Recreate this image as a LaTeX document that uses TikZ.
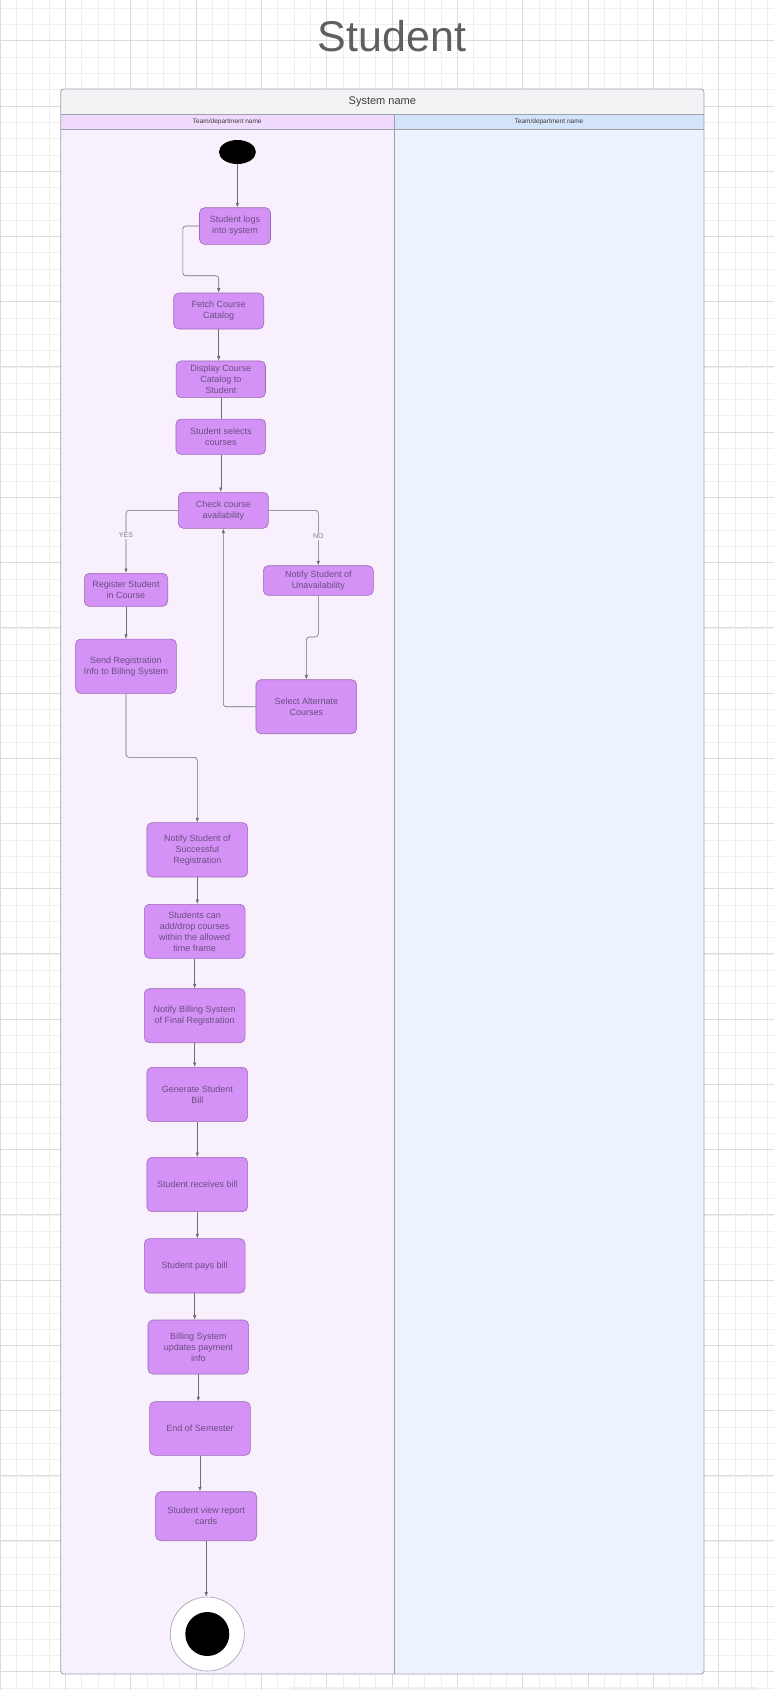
\documentclass[tikz,border=0pt]{standalone}
\usepackage{fontspec}
\setmainfont{Liberation Sans}
\usetikzlibrary{arrows.meta,shapes.geometric}

\definecolor{actfill}{HTML}{D492F7}
\definecolor{actline}{HTML}{9A6BB3}
\definecolor{acttext}{HTML}{6A4E80}
\definecolor{flowline}{HTML}{707070}
\definecolor{laneA}{HTML}{F8F0FD}
\definecolor{laneAhead}{HTML}{F0DAFB}
\definecolor{laneB}{HTML}{EDF4FE}
\definecolor{laneBhead}{HTML}{D3E3FA}
\definecolor{syshead}{HTML}{F2F3F5}
\definecolor{frameline}{HTML}{A0A0A8}
\definecolor{gridminor}{HTML}{EFEFEF}
\definecolor{gridmajor}{HTML}{DCDCDC}
\definecolor{titletext}{HTML}{5F5F5F}
\definecolor{headtext}{HTML}{3C3C3C}

\tikzset{
  act/.style={draw=actline, fill=actfill, rounded corners=5pt, align=center, inner sep=0pt,
    line width=0.6pt, text=acttext, font=\fontsize{9}{11}\selectfont},
  flow/.style={draw=flowline, line width=0.6pt, rounded corners=3pt, -{Latex[length=4.5pt,width=3.5pt]}},
  guard/.style={fill=laneA, inner sep=1pt, text=gray, font=\fontsize{7}{8}\selectfont},
  lanetitle/.style={text=headtext, inner sep=0pt, font=\fontsize{6.5}{7}\selectfont},
}

\begin{document}
\begin{tikzpicture}[x=1pt,y=-1pt]
\useasboundingbox (0,0) rectangle (774,1690);
\fill[white] (0,0) rectangle (774,1690);

% grid
\foreach \i in {0,...,47} \draw[gridminor, line width=0.6pt] (\i*16.33,0) -- (\i*16.33,1690);
\foreach \j in {0,...,103} \draw[gridminor, line width=0.6pt] (0,8.04+\j*16.31) -- (774,8.04+\j*16.31);
\foreach \i in {0,...,11} \draw[gridmajor, line width=0.7pt] (\i*65.33,0) -- (\i*65.33,1690);
\foreach \j in {0,...,25} \draw[gridmajor, line width=0.7pt] (0,40.7+\j*65.22) -- (774,40.7+\j*65.22);
\draw[gridminor, line width=3pt, line cap=round] (291,1688.5) -- (757,1688.5);

\node[text=titletext, font=\fontsize{43}{50}\selectfont] (title) at (392,36) {Student};

% swimlanes
\begin{scope}
\clip[rounded corners=3pt] (60.7,89) rectangle (704,1674);
\fill[syshead] (60.7,89) rectangle (704,114.3);
\fill[laneAhead] (60.7,114.3) rectangle (394,129.3);
\fill[laneBhead] (394,114.3) rectangle (704,129.3);
\fill[laneA] (60.7,129.3) rectangle (394,1674);
\fill[laneB] (394,129.3) rectangle (704,1674);
\end{scope}
\draw[frameline, line width=0.7pt] (60.7,114.3) -- (704,114.3);
\draw[frameline, line width=0.7pt] (60.7,129.3) -- (704,129.3);
\draw[frameline, line width=1pt] (394,114.3) -- (394,1674);
\draw[frameline, line width=0.8pt, rounded corners=3pt] (60.7,89) rectangle (704,1674);

\node[text=headtext, font=\fontsize{11}{13}\selectfont] (sysname) at (382.3,101.6) {System name};
\node[lanetitle] (laneAtitle) at (227.3,121.8) {Team/department name};
\node[lanetitle] (laneBtitle) at (549,121.8) {Team/department name};

% activities
\node[ellipse, fill=black, minimum width=37pt, minimum height=24pt, inner sep=0pt] (start) at (237.4,152) {};
\node[act, minimum width=71pt, minimum height=36.6pt] (login) at (235,226) {Student logs\\into system};
\node[act, minimum width=90pt, minimum height=36pt] (fetch) at (218.7,311) {Fetch Course\\Catalog};
\node[act, minimum width=89.3pt, minimum height=36.7pt] (display) at (220.8,379.3) {Display Course\\Catalog to\\Student};
\node[act, minimum width=89.7pt, minimum height=35.3pt] (selects) at (220.8,436.7) {Student selects\\courses};
\node[act, minimum width=90pt, minimum height=36pt] (check) at (223.3,510.3) {Check course\\availability};
\node[act, minimum width=83.4pt, minimum height=33pt] (register) at (126,589.8) {Register Student\\in Course};
\node[act, minimum width=100.6pt, minimum height=54.3pt] (send) at (126,666.2) {Send Registration\\Info to Billing System};
\node[act, minimum width=110pt, minimum height=29.6pt] (unavail) at (318.3,580.5) {Notify Student of\\Unavailability};
\node[act, minimum width=100.7pt, minimum height=54pt] (alternate) at (306.3,706.7) {Select Alternate\\Courses};
\node[act, minimum width=100.7pt, minimum height=54.3pt] (success) at (197.3,849.8) {Notify Student of\\Successful\\Registration};
\node[act, minimum width=100.7pt, minimum height=54pt] (adddrop) at (194.7,931.3) {Students can\\add/drop courses\\within the allowed\\time frame};
\node[act, minimum width=100.7pt, minimum height=54pt] (notifybill) at (194.7,1015.7) {Notify Billing System\\of Final Registration};
\node[act, minimum width=100.7pt, minimum height=54.3pt] (generate) at (197.3,1094.5) {Generate Student\\Bill};
\node[act, minimum width=100.7pt, minimum height=54.3pt] (receives) at (197.3,1184.5) {Student receives bill};
\node[act, minimum width=100.7pt, minimum height=54.3pt] (pays) at (194.7,1265.8) {Student pays bill};
\node[act, minimum width=100.7pt, minimum height=54pt] (updates) at (198.3,1347) {Billing System\\updates payment\\info};
\node[act, minimum width=100.7pt, minimum height=53.6pt] (endsem) at (200,1428.5) {End of Semester};
\node[act, minimum width=101pt, minimum height=49pt] (report) at (206.2,1516.2) {Student view report\\cards};
\node[circle, draw=frameline, fill=white, line width=0.6pt, minimum size=74pt, inner sep=0pt] (final) at (207.3,1634) {};
\node[circle, fill=black, minimum size=44pt, inner sep=0pt] (finaldot) at (final.center) {};

% connectors
\draw[flow] (start.south) -- (start.south |- login.north);
\draw[flow] (login.west) -- ++(-16.4,0) |- ([yshift=17pt]fetch.north) -- (fetch.north);
\draw[flow] (fetch.south) -- (fetch.south |- display.north);
\draw[draw=flowline, line width=0.6pt] (display.south) -- (display.south |- selects.north);
\draw[flow] (selects.south) -- (selects.south |- check.north);
\draw[flow] (check.west) -| (register.north);
\draw[flow] (check.east) -| (unavail.north);
\draw[flow] (unavail.south) |- ([yshift=42.4pt]alternate.north) -- (alternate.north);
\draw[flow] (alternate.west) -| (check.south);
\draw[flow] (register.south) -- (register.south |- send.north);
\draw[flow] (send.south) |- ([yshift=65pt]success.north) -- (success.north);
\foreach \a/\b in {success/adddrop, adddrop/notifybill, notifybill/generate, generate/receives,
    receives/pays, pays/updates, updates/endsem, endsem/report, report/final}
  \draw[flow] (\a.south) -- (\a.south |- \b.north);

\node[guard] (yes) at (126,535.3) {YES};
\node[guard] (no) at (318.3,536.3) {NO};

\end{tikzpicture}
\end{document}
